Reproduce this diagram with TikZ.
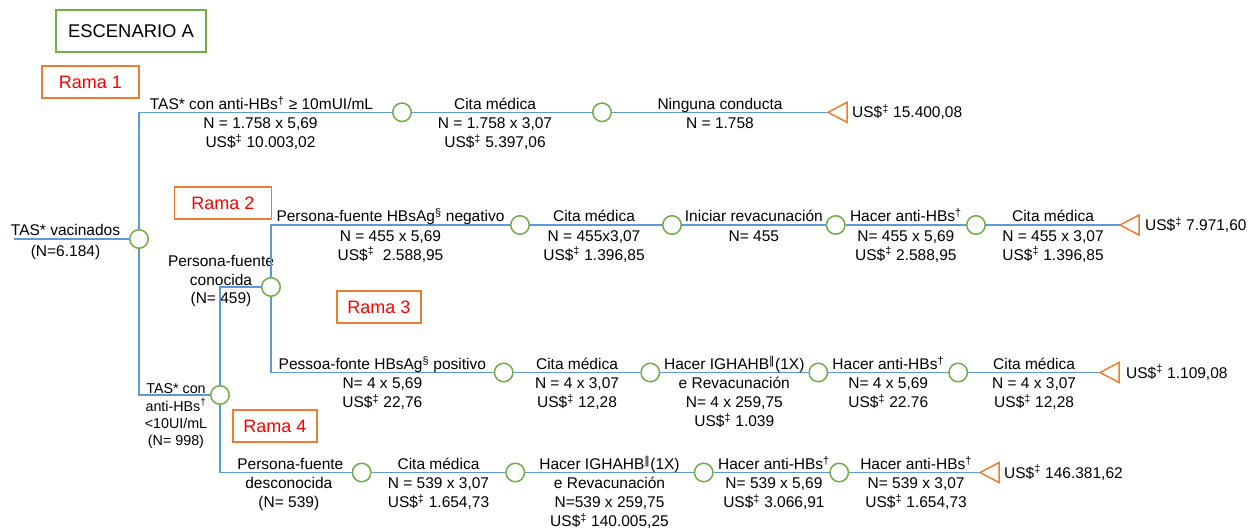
\documentclass[tikz,border=0pt]{standalone}
\usepackage{fontspec}
\setmainfont{Liberation Sans}
\newfontfamily\dejavu{DejaVu Sans}
\usetikzlibrary{positioning}
\definecolor{linkBlue}{HTML}{5B9BD5}
\definecolor{chanceGreen}{HTML}{70AD47}
\definecolor{endOrange}{HTML}{ED7D31}
\definecolor{ramaRed}{HTML}{FF0000}

\begin{document}
\begin{tikzpicture}[
  x=1pt, y=-1pt,
  every node/.style={font=\fontsize{15.5}{18.8}\selectfont},
  link/.style={draw=linkBlue, line width=1.5pt},
  chance/.style={
    circle, draw=chanceGreen, fill=white, line width=1.5pt,
    minimum size=18.5pt, inner sep=0pt
  },
  endtri/.style={draw=endOrange, line width=1.5pt, fill=white},
  stack/.style={anchor=base, align=center, inner sep=0pt},
  tit/.style={anchor=base, yshift=3pt, inner sep=0pt},
  det/.style={stack, yshift=-35.1pt},
  detone/.style={stack, yshift=-16.3pt},
  detthree/.style={stack, yshift=-53.9pt},
  cost/.style={anchor=west, inner sep=0pt},
  scenbox/.style={
    draw=chanceGreen, line width=1.3pt, minimum width=150pt, minimum height=42pt,
    font=\fontsize{18.4}{22}\selectfont
  },
  ramabox/.style={
    draw=endOrange, line width=1.4pt, text=ramaRed, minimum height=32pt,
    font=\fontsize{18}{22}\selectfont
  }
]
\useasboundingbox (0,0) rectangle (1252,529);

\node[scenbox] (scen) at (131,31) {ESCENARIO A};
\node[ramabox, minimum width=97pt] (rama1) at (90.5,82) {Rama 1};
\node[ramabox, minimum width=97pt] (rama2) at (222.8,203) {Rama 2};
\node[ramabox, minimum width=84pt] (rama3) at (379,307) {Rama 3};
\node[ramabox, minimum width=84pt] (rama4) at (274.8,426) {Rama 4};

% chance nodes
\coordinate (start) at (14,239);
\node[chance] (root) at (139,239) {};
\node[chance] (low) at (220,395) {};
\node[chance] (known) at (271,287) {};
\node[chance] (r1a) at (402,112.3) {};
\node[chance] (r1b) at (602,112.3) {};
\coordinate (r1end) at (828,112.3);
\node[chance] (r2a) at (520,225) {};
\node[chance] (r2b) at (672,225) {};
\node[chance] (r2c) at (835.7,225) {};
\node[chance] (r2d) at (976,225) {};
\coordinate (r2end) at (1120,225);
\node[chance] (r3a) at (503.7,372.5) {};
\node[chance] (r3b) at (650.3,372.5) {};
\node[chance] (r3c) at (818.3,372.5) {};
\node[chance] (r3d) at (958.2,372.5) {};
\coordinate (r3end) at (1100,372.5);
\node[chance] (r4a) at (361.7,472.5) {};
\node[chance] (r4b) at (515.3,472.5) {};
\node[chance] (r4c) at (703.7,472.5) {};
\node[chance] (r4d) at (839.2,472.5) {};
\coordinate (r4end) at (980,472.5);

\node[stack] (knownlab) at (221,303.8) {Persona-fuente\\conocida\\(N= 459)};
\node[stack, font=\fontsize{14.3}{17.3}\selectfont] (lowlab) at (176,445.6)
  {TAS* con\\anti-HBs\textsuperscript{†}\\<10UI/mL\\(N= 998)};

% trunk
\draw[link] (start) -- node[tit, xshift=-6pt]{TAS* vacinados}
  node[detone, xshift=-6pt, yshift=-1pt]{(N=6.184)} (root);
\draw[link] (root) |- node[tit, pos=.75, xshift=-4pt]{TAS* con anti-HBs\textsuperscript{†} ≥ 10mUI/mL}
  node[det, pos=.75, xshift=-5pt]{N = 1.758 x 5,69\\US\$\textsuperscript{‡} 10.003,02} (r1a);
\draw[link] (root) |- (low);
\draw[link] (low) |- (known);

% rama 1
\draw[link] (r1a) -- node[tit, xshift=-7pt]{Cita médica}
  node[det, xshift=-7pt]{N = 1.758 x 3,07\\US\$\textsuperscript{‡} 5.397,06} (r1b);
\draw[link] (r1b) -- node[tit]{Ninguna conducta} node[detone]{N = 1.758} (r1end);
\draw[endtri] (r1end) -- ++(19,-10) -- ++(0,20) -- cycle;
\node[cost, right=24pt of r1end] (cost1) {US\$\textsuperscript{‡} 15.400,08};

% rama 2
\draw[link] (known) |- node[tit, pos=.75]{Persona-fuente HBsAg\textsuperscript{§} negativo}
  node[det, pos=.75]{N = 455 x 5,69\\US\$\textsuperscript{‡}\ \ 2.588,95} (r2a);
\draw[link] (r2a) -- node[tit, xshift=-2pt]{Cita médica}
  node[det, xshift=-2pt]{N = 455x3,07\\US\$\textsuperscript{‡} 1.396,85} (r2b);
\draw[link] (r2b) -- node[tit]{Iniciar revacunación} node[detone]{N= 455} (r2c);
\draw[link] (r2c) -- node[tit]{Hacer anti-HBs\textsuperscript{†}}
  node[det]{N= 455 x 5,69\\US\$\textsuperscript{‡} 2.588,95} (r2d);
\draw[link] (r2d) -- node[tit]{Cita médica}
  node[det]{N = 455 x 3,07\\US\$\textsuperscript{‡} 1.396,85} (r2end);
\draw[endtri] (r2end) -- ++(19,-10) -- ++(0,20) -- cycle;
\node[cost, right=25pt of r2end] (cost2) {US\$\textsuperscript{‡} 7.971,60};

% rama 3
\draw[link] (known) |- node[tit, pos=.75]{Pessoa-fonte HBsAg\textsuperscript{§} positivo}
  node[det, pos=.75]{N= 4 x 5,69\\US\$\textsuperscript{‡} 22,76} (r3a);
\draw[link] (r3a) -- node[tit]{Cita médica}
  node[det]{N = 4 x 3,07\\US\$\textsuperscript{‡} 12,28} (r3b);
\draw[link] (r3b) -- node[tit]{Hacer IGHAHB\textsuperscript{\dejavu ‖}(1X)}
  node[detthree]{e Revacunación\\N= 4 x 259,75\\US\$\textsuperscript{‡} 1.039} (r3c);
\draw[link] (r3c) -- node[tit]{Hacer anti-HBs\textsuperscript{†}}
  node[det]{N= 4 x 5,69\\US\$\textsuperscript{‡} 22.76} (r3d);
\draw[link] (r3d) -- node[tit]{Cita médica}
  node[det]{N = 4 x 3,07\\US\$\textsuperscript{‡} 12,28} (r3end);
\draw[endtri] (r3end) -- ++(19,-10) -- ++(0,20) -- cycle;
\node[cost, right=26pt of r3end] (cost3) {US\$\textsuperscript{‡} 1.109,08};

% rama 4
\draw[link] (low) |- node[tit, pos=.75, xshift=4.5pt]{Persona-fuente}
  node[det, pos=.75, xshift=3pt]{desconocida\\(N= 539)} (r4a);
\draw[link] (r4a) -- node[tit]{Cita médica}
  node[det]{N = 539 x 3,07\\US\$\textsuperscript{‡} 1.654,73} (r4b);
\draw[link] (r4b) -- node[tit]{Hacer IGHAHB\textsuperscript{\dejavu ‖}(1X)}
  node[detthree]{e Revacunación\\N=539 x 259,75\\US\$\textsuperscript{‡} 140.005,25} (r4c);
\draw[link] (r4c) -- node[tit, xshift=2.5pt]{Hacer anti-HBs\textsuperscript{†}}
  node[det, xshift=2.5pt]{N= 539 x 5,69\\US\$\textsuperscript{‡} 3.066,91} (r4d);
\draw[link] (r4d) -- node[tit, xshift=1.5pt]{Hacer anti-HBs\textsuperscript{†}}
  node[det, xshift=1.5pt]{N= 539 x 3,07\\US\$\textsuperscript{‡} 1.654,73} (r4end);
\draw[endtri] (r4end) -- ++(19,-10) -- ++(0,20) -- cycle;
\node[cost, right=24pt of r4end] (cost4) {US\$\textsuperscript{‡} 146.381,62};

\end{tikzpicture}
\end{document}
